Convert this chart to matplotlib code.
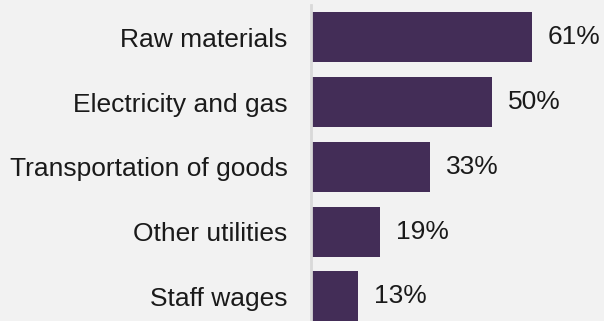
import matplotlib
matplotlib.use("Agg")
import matplotlib.pyplot as plt

categories = ["Raw materials", "Electricity and gas", "Transportation of goods",
              "Other utilities", "Staff wages"]
shares = [61, 50, 33, 19, 13]

bg = "#F2F2F2"
bar_color = "#432D57"

fig = plt.figure(figsize=(6.04, 3.21), dpi=100, facecolor=bg)
# axes run off the bottom edge, so the last bar is cut by the frame
ax = fig.add_axes([311 / 604, 0.0, 293 / 604, 316 / 321])
ax.set_facecolor(bg)

pos = list(range(len(categories)))
ax.barh(pos, shares, height=0.77, color=bar_color, zorder=2)

ax.set_xlim(0, 293 / 3.62)
ax.set_ylim(-0.5 + 316 / 64.75, -0.5)

for y, v in zip(pos, shares):
    ax.text(v + 4.4, y, f"{v}%", va="center", ha="left",
            fontsize=19, family="Liberation Sans", color="#1a1a1a")

ax.set_yticks(pos)
ax.set_yticklabels(categories, fontsize=19, family="Liberation Sans", color="#1a1a1a")
ax.tick_params(axis="y", length=0, pad=17)
ax.set_xticks([])

for s in ["top", "right", "bottom"]:
    ax.spines[s].set_visible(False)
ax.spines["left"].set_color("#D9D9D9")
ax.spines["left"].set_linewidth(2)

fig.savefig("out.png", dpi=100, facecolor=bg)
